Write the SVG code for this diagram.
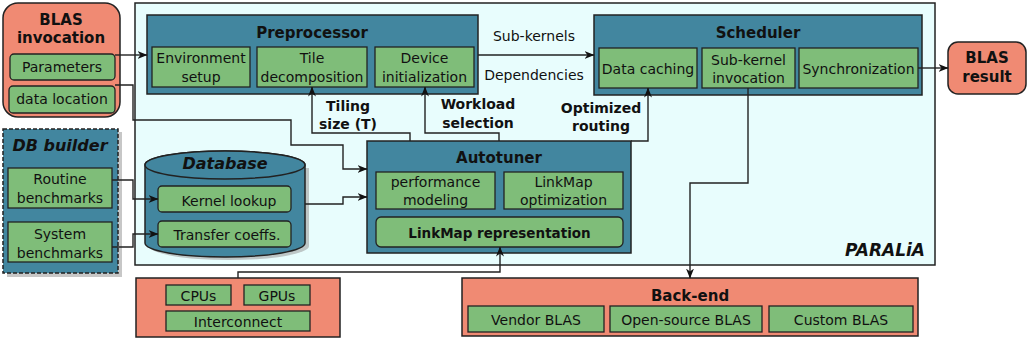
<svg xmlns="http://www.w3.org/2000/svg" width="1029" height="343" viewBox="0 0 1029 343">
<defs>
<style>
text{font-family:"DejaVu Sans","Liberation Sans",sans-serif;fill:#111;}
.t{font-size:14px;text-anchor:middle;}
.b{font-size:15px;font-weight:bold;text-anchor:middle;}
.lb{font-size:14px;font-weight:bold;text-anchor:middle;}
.bi{font-weight:bold;font-style:italic;}
.salmon{fill:#f08a73;stroke:#222;stroke-width:1.5;}
.teal{fill:#42869f;stroke:#222;stroke-width:1.5;}
.green{fill:#7fbd79;stroke:#222;stroke-width:1.3;}
.shadow{fill:#999;opacity:0.55;}
.conn path{fill:none;stroke:#222;stroke-width:1.4;}
</style>
<marker id="arr" viewBox="0 0 10 8" refX="9.5" refY="4" markerWidth="10" markerHeight="8" markerUnits="userSpaceOnUse" orient="auto">
<path d="M0,0 L10,4 L0,8 L3,4 Z" fill="#111"/>
</marker>
</defs>

<g id="paralia">
<rect x="135" y="3" width="800" height="262" fill="#e8fdfd" stroke="#222" stroke-width="1.5"/>
<text x="925" y="256" class="bi" style="font-size:17px;text-anchor:end">PARALiA</text>
</g>

<g id="blas-invocation">
<rect x="3" y="3" width="117" height="114" rx="15" class="salmon"/>
<text x="61" y="25" class="b">BLAS</text>
<text x="61" y="43" class="b">invocation</text>
<rect x="10" y="54" width="105" height="26" rx="4" class="green"/>
<text x="62" y="72" class="t">Parameters</text>
<rect x="9" y="86" width="106" height="27" rx="4" class="green"/>
<text x="62" y="104" class="t">data location</text>
</g>

<g id="preprocessor">
<rect x="147" y="15" width="331" height="79" class="teal"/>
<text x="312" y="38" class="b">Preprocessor</text>
<rect x="152" y="47" width="98" height="40" class="green"/>
<text x="201" y="63" class="t">Environment</text>
<text x="201" y="82" class="t">setup</text>
<rect x="257" y="47" width="110" height="40" class="green"/>
<text x="312" y="63" class="t">Tile</text>
<text x="312" y="82" class="t">decomposition</text>
<rect x="375" y="47" width="99" height="40" class="green"/>
<text x="424.5" y="63" class="t">Device</text>
<text x="424.5" y="82" class="t">initialization</text>
</g>

<g id="scheduler">
<rect x="594" y="15" width="328" height="80" class="teal"/>
<text x="758" y="38" class="b">Scheduler</text>
<rect x="599" y="48" width="98" height="40" class="green"/>
<text x="648" y="74" class="t">Data caching</text>
<rect x="702" y="48" width="93" height="40" class="green"/>
<text x="748.5" y="65" class="t">Sub-kernel</text>
<text x="748.5" y="83" class="t">invocation</text>
<rect x="799" y="48" width="119" height="40" class="green"/>
<text x="858.5" y="74" class="t">Synchronization</text>
</g>

<g id="blas-result">
<rect x="948" y="42" width="78" height="52" rx="10" class="salmon"/>
<text x="987" y="63" class="b">BLAS</text>
<text x="987" y="82" class="b">result</text>
</g>

<g id="db-builder">
<rect x="7" y="132" width="115" height="145" class="shadow"/>
<rect x="3" y="129" width="115" height="144" fill="#42869f" stroke="#222" stroke-width="1.5" stroke-dasharray="4,2"/>
<text x="60" y="151" class="bi" style="font-size:16px;text-anchor:middle">DB builder</text>
<rect x="8" y="168" width="104" height="40" class="green"/>
<text x="60" y="184" class="t">Routine</text>
<text x="60" y="203" class="t">benchmarks</text>
<rect x="8" y="222" width="104" height="40" class="green"/>
<text x="60" y="239" class="t">System</text>
<text x="60" y="258" class="t">benchmarks</text>
</g>

<g id="database">
<path d="M149,168 L149,246 A80,14 0 0 0 309,246 L309,168 Z" class="shadow"/>
<path d="M145,165 L145,243 A80,14 0 0 0 305,243 L305,165 A80,14 0 0 0 145,165 Z" class="teal"/>
<ellipse cx="225" cy="165" rx="80" ry="14" class="teal"/>
<text x="225" y="169" class="bi" style="font-size:16px;text-anchor:middle">Database</text>
<rect x="158" y="186" width="133" height="26" rx="4" class="green"/>
<text x="229" y="206" class="t">Kernel lookup</text>
<rect x="158" y="221" width="133" height="26" rx="4" class="green"/>
<text x="227" y="240" class="t">Transfer coeffs.</text>
</g>

<g id="autotuner">
<rect x="367" y="141" width="264" height="112" class="teal"/>
<text x="499" y="163" class="b">Autotuner</text>
<rect x="376" y="172" width="119" height="37" class="green"/>
<text x="435.5" y="187" class="t">performance</text>
<text x="435.5" y="205" class="t">modeling</text>
<rect x="504" y="172" width="119" height="37" class="green"/>
<text x="563.5" y="187" class="t">LinkMap</text>
<text x="563.5" y="205" class="t">optimization</text>
<rect x="376" y="217" width="247" height="30" rx="5" class="green"/>
<text x="499.5" y="238" class="lb" style="font-size:13.5px">LinkMap representation</text>
</g>

<g id="hardware">
<rect x="136" y="278" width="204" height="59" class="salmon"/>
<rect x="166" y="285" width="65" height="20" class="green"/>
<text x="198.5" y="301" class="t">CPUs</text>
<rect x="244" y="285" width="66" height="20" class="green"/>
<text x="277" y="301" class="t">GPUs</text>
<rect x="166" y="311" width="144" height="20" class="green"/>
<text x="238" y="327" class="t">Interconnect</text>
</g>

<g id="back-end">
<rect x="462" y="278" width="456" height="58" class="salmon"/>
<text x="690" y="301" class="b">Back-end</text>
<rect x="468" y="306" width="136" height="26" class="green"/>
<text x="536" y="325" class="t">Vendor BLAS</text>
<rect x="610" y="306" width="152" height="26" class="green"/>
<text x="686" y="325" class="t">Open-source BLAS</text>
<rect x="769" y="306" width="144" height="26" class="green"/>
<text x="841" y="325" class="t">Custom BLAS</text>
</g>

<g id="connectors" class="conn">
<path d="M115,55 L147,55" marker-end="url(#arr)"/>
<path d="M115,85 L133,85 L133,120 L291,120 L291,145 L343,145 L343,169 L367,169" marker-end="url(#arr)"/>
<path d="M112,180 L133,180 L133,199 L158,199" marker-end="url(#arr)"/>
<path d="M112,247 L133,247 L133,234 L158,234" marker-end="url(#arr)"/>
<path d="M305,204 L343,204 L343,197 L367,197" marker-end="url(#arr)"/>
<path d="M410,141 L410,133 L312,133 L312,87" marker-end="url(#arr)"/>
<path d="M499,141 L499,133 L425,133 L425,87" marker-end="url(#arr)"/>
<path d="M631,141 L648,141 L648,88" marker-end="url(#arr)"/>
<path d="M478,55 L594,55" marker-end="url(#arr)"/>
<path d="M918,68 L948,68" marker-end="url(#arr)"/>
<path d="M748,88 L748,183 L690,183 L690,278" marker-end="url(#arr)"/>
<path d="M238,278 L238,272 L500,272 L500,247" marker-end="url(#arr)"/>
</g>

<g id="labels">
<text x="534" y="41" class="t">Sub-kernels</text>
<text x="534" y="80" class="t">Dependencies</text>
<text x="348" y="111" class="lb">Tiling</text>
<text x="348" y="129" class="lb">size (T)</text>
<text x="478" y="109" class="lb">Workload</text>
<text x="478" y="128" class="lb">selection</text>
<text x="601" y="113" class="lb">Optimized</text>
<text x="601" y="131" class="lb">routing</text>
</g>
</svg>
